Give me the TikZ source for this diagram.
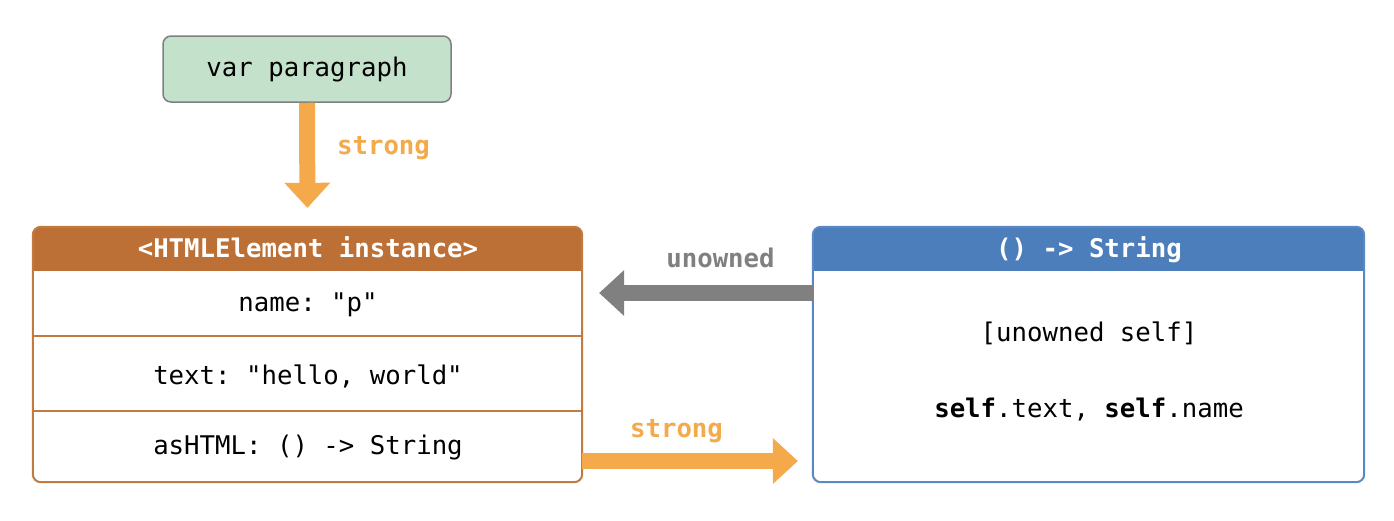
\documentclass[tikz,border=0pt]{standalone}
\usepackage{fontspec}
\setmonofont{DejaVu Sans Mono}
\usetikzlibrary{arrows.meta}

\definecolor{greenfill}{HTML}{C4E2CB}
\definecolor{greenline}{HTML}{7F7F7F}
\definecolor{rust}{HTML}{BC7035}
\definecolor{rustline}{HTML}{C27A3E}
\definecolor{ownorange}{HTML}{F4A94A}
\definecolor{steel}{HTML}{4C7EBB}
\definecolor{steelline}{HTML}{5A88C3}
\definecolor{refgray}{HTML}{808080}

\newcommand{\codefont}{\ttfamily\fontsize{25.7}{30}\selectfont}

\begin{document}
\begin{tikzpicture}[x=1pt,y=-1pt,
  code/.style={font=\codefont, inner sep=0pt, anchor=base},
  headtext/.style={code, font=\codefont\bfseries, text=white},
  tag/.style={code, font=\codefont\bfseries},
  frame/.style={inner sep=0pt, minimum width=549pt, minimum height=255pt},
  fatarrow/.style={line width=16pt, -{Triangle[length=25pt, width=46pt, line width=0pt]}},
]
\useasboundingbox (0,0) rectangle (1394,520);

% variable box
\node[draw=greenline, fill=greenfill, line width=1.5pt, rounded corners=8pt,
      minimum width=288pt, minimum height=66pt, inner sep=0pt, font=\codefont]
      (para) at (307,69) {var paragraph};

% instance frame and closure frame
\node[frame] (elem) at (307.5,354.5) {};
\node[frame, minimum width=551pt] (clos) at (1088.5,354.5) {};

% headers
\fill[rust] ([yshift=-44pt]elem.north west) [rounded corners=8pt] -- (elem.north west)
  -- (elem.north east) [sharp corners] -- ([yshift=-44pt]elem.north east) -- cycle;
\fill[steel] ([yshift=-44pt]clos.north west) [rounded corners=8pt] -- (clos.north west)
  -- (clos.north east) [sharp corners] -- ([yshift=-44pt]clos.north east) -- cycle;

% row separators
\draw[rustline, line width=1.5pt] (elem.west |- 0,336) -- (elem.east |- 0,336);
\draw[rustline, line width=1.5pt] (elem.west |- 0,411) -- (elem.east |- 0,411);

% borders
\draw[rustline, line width=2pt, rounded corners=8pt] (elem.north west) rectangle (elem.south east);
\draw[steelline, line width=2pt, rounded corners=8pt] (clos.north west) rectangle (clos.south east);

% texts
\node[headtext] (elemhead) at (308,257) {<HTMLElement instance>};
\node[code] (rowname) at (308,311) {name: "p"};
\node[code] (rowtext) at (308,384) {text: "hello, world"};
\node[code] (rowhtml) at (308,454) {asHTML: () -> String};
\node[headtext] (closhead) at (1089,257) {() -> String};
\node[code] (capture) at (1089,341) {[unowned self]};
\node[code] (body) at (1089,417) {\textbf{self}.text, \textbf{self}.name};

% references
\coordinate (unownedlevel) at (0,293);
\coordinate (stronglevel) at (0,461);
\draw[ownorange, fatarrow, shorten >=19pt] (para.south) -- (elem.north);
\draw[refgray, fatarrow, shorten >=17pt] (clos.west |- unownedlevel) -- (elem.east |- unownedlevel);
\draw[ownorange, fatarrow, shorten >=15pt] (elem.east |- stronglevel) -- (clos.west |- stronglevel);

% reference labels
\node[tag, text=ownorange] (lbltop) at (383.5,154) {strong};
\node[tag, text=refgray] (lblunowned) at (720.5,267) {unowned};
\node[tag, text=ownorange] (lblbottom) at (676.5,437) {strong};
\end{tikzpicture}
\end{document}
